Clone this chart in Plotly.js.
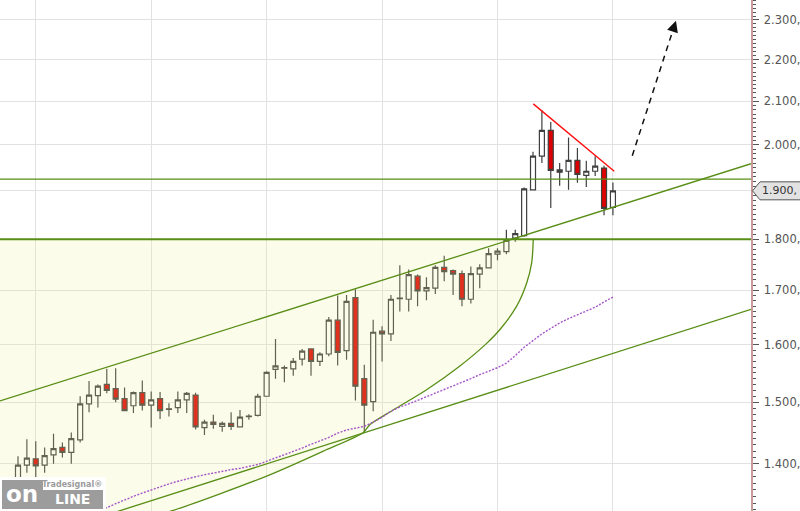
<!DOCTYPE html>
<html><head><meta charset="utf-8">
<script src="https://cdn.plot.ly/plotly-3.0.1.min.js"></script>
<style>html,body{margin:0;padding:0;background:#fff}#chart{width:800px;height:511px}</style>
</head><body><div id="chart"></div>
<script>
// ---- weekly candle data (index = week number) ----
const openV  = [1350,1368,1398,1408,1398,1414,1426,1418,1438,1497,1511,1530,1523,1506,1494,1516,1495,1506,1489,1491,
                1504,1512,1458,1467,1460,1465,1459,1477,1478,1510,1556,1559,1557,1574,1592,1570,1583,1644,1589,1686,
                1540,1501,1624,1619,1685,1683,1727,1699,1704,1744,1738,1732,1683,1731,1743,1770,1775,1802,1807,1902,
                1975,2033,1945,1942,1966,1933,1942,1949,1865];
const highV  = [1372,1412,1439,1436,1426,1448,1434,1450,1510,1536,1530,1557,1558,1525,1518,1537,1518,1517,1498,1518,
                1517,1516,1471,1479,1468,1483,1487,1480,1514,1553,1610,1563,1576,1592,1593,1586,1650,1690,1691,1702,
                1564,1645,1633,1691,1748,1740,1730,1725,1748,1767,1740,1738,1746,1750,1782,1782,1819,1819,1907,1985,
                2079,2052,1960,2017,1993,1965,1975,1954,1918];
const lowV   = [1340,1358,1386,1376,1386,1400,1410,1400,1434,1483,1491,1515,1500,1485,1482,1486,1458,1472,1476,1482,
                1482,1455,1446,1456,1451,1454,1458,1471,1476,1509,1540,1534,1545,1563,1545,1562,1579,1563,1573,1503,
                1451,1485,1570,1606,1660,1660,1670,1681,1693,1717,1691,1670,1675,1704,1743,1758,1770,1795,1805,1902,
                1960,1864,1911,1902,1917,1908,1932,1849,1849];
const closeV = [1366,1398,1409,1397,1413,1424,1418,1440,1497,1512,1527,1520,1505,1486,1516,1495,1504,1486,1488,1504,
                1515,1459,1467,1463,1465,1460,1475,1476,1510,1551,1562,1558,1570,1588,1570,1583,1644,1586,1679,1527,
                1495,1622,1619,1683,1684,1730,1699,1705,1744,1736,1731,1683,1732,1743,1771,1776,1798,1811,1904,1975,
                2033,1944,1940,1966,1935,1942,1953,1863,1900];
// moving average (dotted purple), starts at week 10
const maV = [null,null,null,null,null,null,null,null,null,null,
             1332,1333,1339,1345,1350,1355,1360,1364,1369,1373,1377,1380,1383,1386,1388,1391,1393,1396,1399,1404,
             1409,1414,1419,1425,1431,1436,1442,1449,1454,1457,1460,1467,1475,1485,1492,1497,1503,1510,1516,1522,
             1528,1534,1540,1547,1553,1559,1567,1580,1595,1607,1619,1629,1639,1647,1654,1661,1668,1678,1687];
const weeks = openV.map((_, i) => i);

// ---- drawn analysis lines (week index, price) ----
const upperChannelX = [-1.03, 83.55], upperChannelY = [1502, 1958.5];
const lowerChannelX = [10.2, 83.55],  lowerChannelY = [1319, 1664];
const supportLevel = 1800, resistLevel = 1925;
const redTrendX = [59.03, 68.15], redTrendY = [2094, 1942];
const arrowX = [70.18, 75.1], arrowY = [1976, 2298];
const curveX = [59.03, 58.85, 58.29, 57.16, 55.28, 53.78, 50.77, 47.02, 43.26, 40.64, 39.89, 35.38, 29.01, 18.49, 14.0];
const curveY = [1800, 1753, 1714, 1670, 1627, 1602, 1562, 1521, 1487, 1463, 1450, 1420, 1381, 1329, 1312];

// ---- axis ticks ----
const yTicks = [1400,1500,1600,1700,1800,1900,2000,2100,2200,2300];
const fmt = v => Math.floor(v/1000) + '.' + String(v % 1000).padStart(3,'0') + ',';
const lastClose = closeV[closeV.length - 1];
const yTickText = yTicks.map(v => v === lastClose ? '' : fmt(v));
const gridWeeks = [3,16,29,42,55,68];
const minorVals = [];
for (let v = 1330; v <= 2350; v += 10) if (v % 100 !== 0) minorVals.push(v);

const yMin = 1328.1, yMax = 2352;
const r0 = Math.log10(yMin), r1 = Math.log10(yMax);
const xRange = [-1.027, 83.55];

const GREEN = 'rgb(88,142,22)';
const py = (Math.log10(lastClose) - r0) / (r1 - r0);
const plotW = 751, plotH = 511;
const px = p => p / plotW, pyp = p => 1 - p / plotH;

const traces = [
  { // shaded zone under support, left of curve
    x: [xRange[0]-2, ...curveX, curveX[curveX.length-1], xRange[0]-2],
    y: [supportLevel, ...curveY, 1290, 1290],
    mode: 'lines', line: {width: 0}, fill: 'toself',
    fillcolor: 'rgba(240,240,150,0.2)', hoverinfo: 'skip'
  },
  {
    x: curveX, y: curveY, mode: 'lines',
    line: {color: GREEN, width: 1.3, shape: 'spline', smoothing: 0.8}, hoverinfo: 'skip'
  },
  {
    x: weeks, y: maV, mode: 'lines',
    line: {color: 'rgb(165,85,200)', width: 1.4, dash: '2px,1.5px'}, hoverinfo: 'skip'
  },
  {
    type: 'candlestick', x: weeks, open: openV, high: highV, low: lowV, close: closeV,
    increasing: {line: {color: '#3f3f3f', width: 1.2}, fillcolor: '#ffffff'},
    decreasing: {line: {color: '#3f3f3f', width: 1.2}, fillcolor: '#dc0000'},
    whiskerwidth: 0, hoverinfo: 'skip'
  }
];

const shapes = [
  {type:'line', x0:xRange[0]-1, x1:xRange[1]+1, y0:supportLevel, y1:supportLevel, line:{color:GREEN, width:2}},
  {type:'line', x0:xRange[0]-1, x1:xRange[1]+1, y0:resistLevel, y1:resistLevel, line:{color:GREEN, width:1.2}},
  {type:'line', x0:upperChannelX[0], x1:upperChannelX[1], y0:upperChannelY[0], y1:upperChannelY[1], line:{color:GREEN, width:1.3}},
  {type:'line', x0:lowerChannelX[0], x1:lowerChannelX[1], y0:lowerChannelY[0], y1:lowerChannelY[1], line:{color:GREEN, width:1.3}},
  {type:'line', x0:redTrendX[0], x1:redTrendX[1], y0:redTrendY[0], y1:redTrendY[1], line:{color:'#ff1010', width:1.4}},
  {type:'line', x0:arrowX[0], x1:arrowX[1], y0:arrowY[0], y1:arrowY[1], line:{color:'#111', width:1.5, dash:'6px,5px'}},
  // logo backdrop
  {type:'rect', xref:'paper', yref:'paper', x0:0, x1:px(106), y0:0, y1:pyp(477), fillcolor:'#ffffff', line:{width:0}},
  {type:'rect', xref:'paper', yref:'paper', x0:px(2), x1:px(43), y0:pyp(509), y1:pyp(480), fillcolor:'#9c9c9c', line:{width:0}},
  {type:'rect', xref:'paper', yref:'paper', x0:px(40), x1:px(103), y0:pyp(509), y1:pyp(490), fillcolor:'#9c9c9c', line:{width:0}},
  // last price marker
  {type:'path', xref:'paper', yref:'paper',
   path: 'M '+px(752.5)+','+py+' L '+px(760)+','+(py+9/plotH)+' L '+px(810)+','+(py+9/plotH)+
         ' L '+px(810)+','+(py-9/plotH)+' L '+px(760)+','+(py-9/plotH)+' Z',
   fillcolor:'#e2e2e2', line:{color:'#555', width:1}}
];

const annotations = [
  {x: arrowX[1], y: Math.log10(arrowY[1]), ax: -3.7, ay: 11.4, text: '', showarrow: true,
   arrowhead: 2, arrowsize: 1.4, arrowwidth: 1.6, arrowcolor: '#111', standoff: 0},
  {xref:'paper', yref:'paper', x: px(762), y: py, xanchor:'left', yanchor:'middle', showarrow:false,
   borderpad: 0, borderwidth: 0,
   text: fmt(lastClose), font:{family:'DejaVu Sans', size:11, color:'#333'}},
  {xref:'paper', yref:'paper', x: px(22), y: pyp(494), xanchor:'center', yanchor:'middle', showarrow:false,
   text:'<b>on</b>', font:{family:'DejaVu Sans', size:23, color:'#ffffff'}},
  {xref:'paper', yref:'paper', x: px(72), y: pyp(499), xanchor:'center', yanchor:'middle', showarrow:false,
   text:'<b>LINE</b>', font:{family:'DejaVu Sans', size:14, color:'#ffffff'}},
  {xref:'paper', yref:'paper', x: px(72), y: pyp(484), xanchor:'center', yanchor:'middle', showarrow:false,
   text:'<b>Tradesignal®</b>', font:{family:'DejaVu Sans', size:8, color:'#9c9c9c'}}
];

const layout = {
  width: 800, height: 511,
  margin: {l:0, r:49, t:0, b:0, pad:0},
  paper_bgcolor: '#ffffff', plot_bgcolor: '#ffffff',
  showlegend: false, boxgap: 0.25, boxgroupgap: 0.25,
  xaxis: {range: xRange, tickmode:'array', tickvals: gridWeeks, showticklabels: false, ticks: '',
          showgrid: true, gridcolor: '#e2e2e2', gridwidth: 1, zeroline: false, showline: false,
          rangeslider: {visible: false}, fixedrange: true},
  yaxis: {type: 'log', side: 'right', range: [r0, r1], tickmode:'array', tickvals: yTicks, ticktext: yTickText,
          ticks: 'outside', ticklen: 6, tickwidth: 1, tickcolor: '#555',
          showgrid: true, gridcolor: '#e2e2e2', gridwidth: 1, zeroline: false,
          showline: true, linecolor: 'rgb(200,155,155)', linewidth: 1.5,
          tickfont: {family: 'DejaVu Sans', size: 11.5, color: '#555'}, ticklabelstandoff: 3,
          minor: {tickmode:'array', tickvals: minorVals, ticks: 'outside', ticklen: 3.5, tickwidth: 1,
                  tickcolor: '#555', showgrid: false},
          fixedrange: true},
  shapes: shapes,
  annotations: annotations
};

Plotly.newPlot('chart', traces, layout, {displayModeBar: false, staticPlot: true});
</script></body></html>
